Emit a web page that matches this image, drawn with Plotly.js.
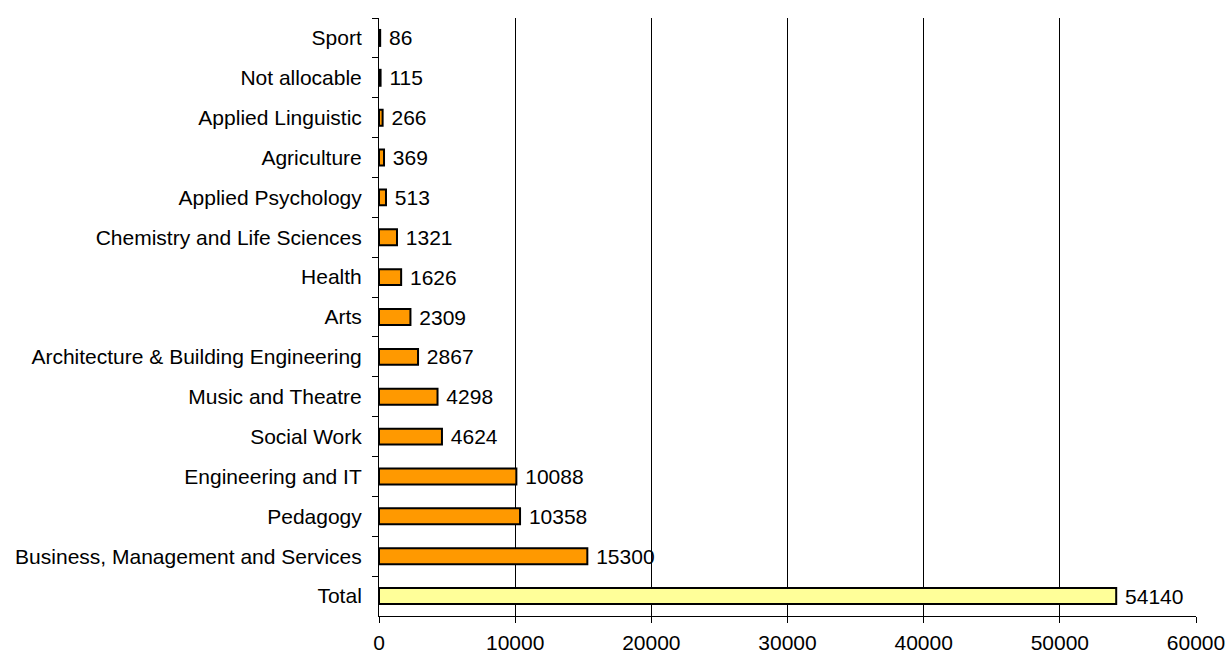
<!DOCTYPE html>
<html>
<head>
<meta charset="utf-8">
<script src="https://cdn.plot.ly/plotly-3.0.1.min.js"></script>
<style>html,body{margin:0;padding:0;background:#fff;}#chart{width:1227px;height:655px;}</style>
</head>
<body>
<div id="chart"></div>
<script>
const categories = ["Sport","Not allocable","Applied Linguistic","Agriculture","Applied Psychology","Chemistry and Life Sciences","Health","Arts","Architecture & Building Engineering","Music and Theatre","Social Work","Engineering and IT","Pedagogy","Business, Management and Services","Total"];
const values = [86,115,266,369,513,1321,1626,2309,2867,4298,4624,10088,10358,15300,54140];
const xTickValues = [0,10000,20000,30000,40000,50000,60000];

const colors = categories.map(c => c === "Total" ? "#FFFF99" : "#FF9900");

const trace = {
  type: "bar",
  orientation: "h",
  y: categories,
  x: values,
  text: values.map(v => "\u00a0" + String(v)),
  textposition: "outside",
  constraintext: "none",
  cliponaxis: false,
  textfont: {family: "Liberation Sans, Arial, sans-serif", size: 21, color: "#000"},
  marker: {color: colors, line: {color: "#000", width: 2}},
  width: 0.4,
  hoverinfo: "none"
};

const layout = {
  width: 1227, height: 655,
  margin: {l: 379, r: 31, t: 18, b: 39},
  paper_bgcolor: "#fff", plot_bgcolor: "#fff",
  showlegend: false,
  font: {family: "Liberation Sans, Arial, sans-serif", size: 21, color: "#000"},
  xaxis: {
    range: [0, 60000],
    tickvals: xTickValues,
    ticktext: xTickValues.map(String),
    showgrid: true, gridcolor: "#000", gridwidth: 1,
    zeroline: false,
    showline: true, linecolor: "#000", linewidth: 1,
    ticks: "outside", ticklen: 6, tickcolor: "#000",
    ticklabelstandoff: 2,
    fixedrange: true
  },
  yaxis: {
    autorange: "reversed",
    type: "category",
    showgrid: false, zeroline: false,
    showline: true, linecolor: "#000", linewidth: 1,
    ticks: "outside", ticklen: 6, tickcolor: "#000",
    tickson: "boundaries",
    ticklabelstandoff: 12,
    fixedrange: true
  }
};

Plotly.newPlot("chart", [trace], layout, {displayModeBar: false, staticPlot: true});
</script>
</body>
</html>
